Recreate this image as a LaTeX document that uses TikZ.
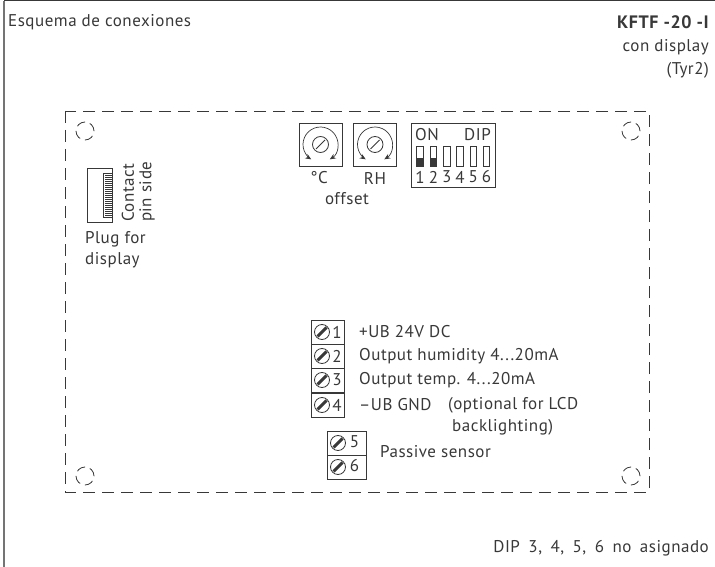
\documentclass[tikz,border=0pt]{standalone}
\usepackage{fontspec}
\setmainfont[LetterSpace=3]{PT Sans}
\usepackage{tikz}
\usetikzlibrary{arrows.meta}
\definecolor{inkgray}{gray}{0.22}
\tikzset{
	label/.style={inner sep=0pt, font=\fontsize{17}{20}\selectfont, text=inkgray},
	leftlabel/.style={label, anchor=west},
	rightlabel/.style={label, anchor=east},
	box/.style={draw=inkgray, line width=0.8pt},
	mounthole/.pic={
		\draw[inkgray, line width=0.8pt, dash pattern=on 9pt off 5pt] (0,0) circle (9);
	},
	screw/.pic={
		\draw[inkgray, line width=0.8pt] (0,0) circle (7.5);
		\draw[inkgray, line width=3pt] (-4.5,-4.5) -- (4.5,4.5);
	},
	trimmer/.pic={
		\draw[box] (-21.5,-21.5) rectangle (21.5,21.5);
		\draw[inkgray, line width=0.7pt, {Stealth[length=6pt,width=5pt]}-{Stealth[length=6pt,width=5pt]}] (-58:17.5) arc (-58:238:17.5);
		\draw[inkgray, line width=0.8pt] (0,0) circle (8);
		\draw[inkgray, line width=0.8pt] (-4.5,-4.5) -- (4.5,4.5);
	},
}
\begin{document}
\begin{tikzpicture}[x=1pt, y=1pt]
\useasboundingbox (0,-567) rectangle (715,0);
\draw[inkgray, line width=1pt] (715,-1) -- (4,-1);
\draw[inkgray!70, line width=1.5pt] (4,-1) -- (4,-567);

\node[leftlabel] (title) at (8,-22) {Esquema de conexiones};
\node[rightlabel, font=\fontsize{18}{20}\selectfont\bfseries] (model) at (709,-22) {KFTF -20 -I};
\node[rightlabel] (variant) at (709,-47) {con display};
\node[rightlabel] (tyr) at (709,-70) {(Tyr2)};
\node[rightlabel] (note) at (709,-548) {\spaceskip=8.5pt DIP 3, 4, 5, 6 no asignado};

% housing
\draw[inkgray, line width=0.9pt, dash pattern=on 12pt off 7pt] (65,-111) rectangle (649,-492);
\pic at (85,-131) {mounthole};
\pic at (631,-131) {mounthole};
\pic at (85,-476) {mounthole};
\pic at (631,-476) {mounthole};

% display plug
\draw[box] (87,-168) rectangle (112,-222);
\draw[box] (103,-173) rectangle (112,-217);
\foreach \j in {0,...,20}
	\draw[inkgray, line width=0.4pt] (105,-175-2*\j) -- (112,-175-2*\j);
\node[label, anchor=west, rotate=90] (contact) at (128,-222) {Contact};
\node[label, anchor=west, rotate=90] (pinside) at (147,-222) {pin side};
\node[leftlabel] (plugfor) at (85,-239) {Plug for};
\node[leftlabel] (plugdisplay) at (85,-260) {display};

% offset trimmers
\pic at (320.5,-144.5) {trimmer};
\pic at (375,-144.5) {trimmer};
\node[label] (degc) at (319,-178) {°C};
\node[label] (rh) at (375,-178) {RH};
\node[label] (offset) at (347,-199) {offset};

% dip switch
\draw[box] (411,-123) rectangle (495,-187);
\node[leftlabel] (dipon) at (415,-135) {ON};
\node[rightlabel] (diptext) at (491,-135) {DIP};
\foreach \i in {1,...,6} {
	\draw[inkgray, line width=0.7pt] (403.5+13.3*\i,-146) rectangle (410+13.3*\i,-166);
	\node[label] (dip\i) at (406.8+13.3*\i,-177) {\i};
}
\fill[inkgray] (416.8,-158) rectangle (423.3,-166);
\fill[inkgray] (430.1,-158) rectangle (436.6,-166);

% terminals
\foreach \i/\y in {1/-320,2/-344,3/-368,4/-393} {
	\draw[box] (311,\y) rectangle (344,\y-24.5);
	\pic at (322,\y-12) {screw};
	\node[label] (term\i) at (337,\y-12) {\i};
}
\foreach \i/\y in {5/-431,6/-455} {
	\draw[box] (327,\y) rectangle (366,\y-24);
	\pic at (338,\y-12) {screw};
	\node[label] (term\i) at (354.5,\y-11) {\i};
}
\node[leftlabel] (ub) at (359,-332) {+UB 24V DC};
\node[leftlabel] (humidity) at (359,-356) {Output humidity 4...20mA};
\node[leftlabel] (temp) at (359,-380) {Output temp. 4...20mA};
\node[leftlabel] (gnd) at (359,-405) {–UB GND};
\node[leftlabel] (optional) at (448,-405) {(optional for LCD};
\node[leftlabel] (backlight) at (452,-427) {backlighting)};
\node[leftlabel] (passive) at (380,-452) {Passive sensor};
\end{tikzpicture}
\end{document}
